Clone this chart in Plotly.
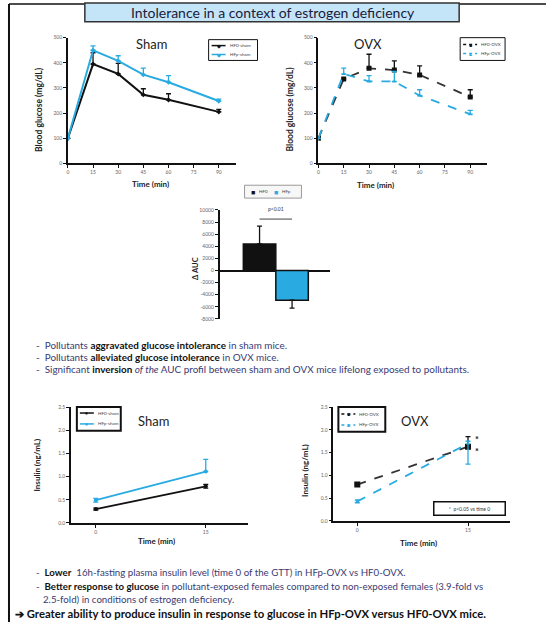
import plotly.graph_objects as go

W, H = 546, 625
def px(x): return x / W
def py(y): return 1 - y / H

BLUE = "#29ABE2"
BLACK = "#111111"
TXT = "#3a3a72"
FONT = "Lato"

# ---------------- data ----------------
gtt_time = [0, 15, 30, 45, 60, 90]
gtt_ticks = [0, 15, 30, 45, 60, 75, 90]
gtt_yticks = [0, 100, 200, 300, 400, 500]
sham_hf0 = [100, 395, 356, 273, 253, 205]
sham_hf0_err = [0, 45, 42, 24, 24, 10]
sham_hfp = [100, 450, 408, 353, 323, 248]
sham_hfp_err = [0, 17, 20, 26, 26, 8]
ovx_hf0 = [100, 336, 378, 371, 352, 264]
ovx_hf0_err = [0, 0, 56, 37, 36, 29]
ovx_hfp = [100, 356, 326, 326, 270, 196]
ovx_hfp_err = [0, 23, 23, 40, 23, 15]

auc_groups = ["HF0", "HFp"]
auc_pos = [0, 1]
auc_delta = [4400, -4900]
auc_err_up = [2950, 0]
auc_err_down = [0, 1300]
auc_ticks = [-8000, -6000, -4000, -2000, 0, 2000, 4000, 6000, 8000, 10000]
auc_ticktext = [str(v) for v in auc_ticks]

ins_time = [0, 15]
ins_ticks = ["0", "15"]
ins_yticks = [0.0, 0.5, 1.0, 1.5, 2.0, 2.5]
ins_sham_hf0 = [0.30, 0.79]
ins_sham_hf0_up = [0.02, 0.04]
ins_sham_hf0_dn = [0.02, 0.04]
ins_sham_hfp = [0.49, 1.11]
ins_sham_hfp_up = [0.04, 0.26]
ins_sham_hfp_dn = [0.04, 0.0]
ins_ovx_hf0 = [0.80, 1.63]
ins_ovx_hf0_up = [0.04, 0.22]
ins_ovx_hf0_dn = [0.0, 0.0]
ins_ovx_hfp = [0.43, 1.70]
ins_ovx_hfp_up = [0.03, 0.05]
ins_ovx_hfp_dn = [0.03, 0.45]

fig = go.Figure()

def err(up, dn, color):
    return dict(type="data", symmetric=False, array=up, arrayminus=dn,
                color=color, thickness=1.3, width=2.5)

# chart 1: Sham GTT
fig.add_trace(go.Scatter(x=gtt_time, y=sham_hf0, name="HF0-sham", mode="lines+markers",
    line=dict(color=BLACK, width=2), marker=dict(size=4, symbol="diamond"),
    error_y=err(sham_hf0_err, [0]*6, BLACK), xaxis="x", yaxis="y"))
fig.add_trace(go.Scatter(x=gtt_time, y=sham_hfp, name="HFp-sham", mode="lines+markers",
    line=dict(color=BLUE, width=2), marker=dict(size=4, symbol="diamond"),
    error_y=err(sham_hfp_err, [0]*6, BLUE), xaxis="x", yaxis="y"))

# chart 2: OVX GTT
fig.add_trace(go.Scatter(x=gtt_time, y=ovx_hf0, name="HF0-OVX", mode="lines+markers",
    line=dict(color="#333333", width=1.8, dash="dash"), marker=dict(size=5, symbol="square", color=BLACK),
    error_y=err(ovx_hf0_err, [0]*6, BLACK), xaxis="x2", yaxis="y2"))
fig.add_trace(go.Scatter(x=gtt_time, y=ovx_hfp, name="HFp-OVX", mode="lines+markers",
    line=dict(color=BLUE, width=1.8, dash="dash"), marker=dict(size=4, symbol="triangle-up", color=BLUE),
    error_y=err(ovx_hfp_err, [0]*6, BLUE), xaxis="x2", yaxis="y2"))

# chart 3: delta AUC
for i, (g, c) in enumerate(zip(auc_groups, [BLACK, BLUE])):
    fig.add_trace(go.Bar(x=[auc_pos[i]], y=[auc_delta[i]], name=g, width=1,
        marker=dict(color=c, line=dict(color=BLACK, width=1.5)),
        error_y=err([auc_err_up[i]], [auc_err_down[i]], BLACK),
        xaxis="x3", yaxis="y3"))

# chart 4: Sham insulin
fig.add_trace(go.Scatter(x=ins_time, y=ins_sham_hf0, name="HF0-sham", mode="lines+markers",
    line=dict(color=BLACK, width=1.8), marker=dict(size=4),
    error_y=err(ins_sham_hf0_up, ins_sham_hf0_dn, BLACK), xaxis="x4", yaxis="y4"))
fig.add_trace(go.Scatter(x=ins_time, y=ins_sham_hfp, name="HFp-sham", mode="lines+markers",
    line=dict(color=BLUE, width=1.8), marker=dict(size=4),
    error_y=err(ins_sham_hfp_up, ins_sham_hfp_dn, BLUE), xaxis="x4", yaxis="y4"))

# chart 5: OVX insulin
fig.add_trace(go.Scatter(x=ins_time, y=ins_ovx_hf0, name="HF0-OVX", mode="lines+markers",
    line=dict(color="#333333", width=1.8, dash="dash"), marker=dict(size=6, symbol="square", color=BLACK),
    error_y=err(ins_ovx_hf0_up, ins_ovx_hf0_dn, BLACK), xaxis="x5", yaxis="y5"))
fig.add_trace(go.Scatter(x=ins_time, y=ins_ovx_hfp, name="HFp-OVX", mode="lines+markers",
    line=dict(color=BLUE, width=1.8, dash="dash"), marker=dict(size=4, symbol="triangle-up", color=BLUE),
    error_y=err(ins_ovx_hfp_up, ins_ovx_hfp_dn, BLUE), xaxis="x5", yaxis="y5"))

tickfont = dict(family=FONT, size=5, color="#666666")
def xax(dom, yanchor, rng, tickvals, ticktext=None, showline=True):
    d = dict(domain=dom, anchor=yanchor, range=rng, tickvals=tickvals, showline=showline,
             linecolor=BLACK, linewidth=1.5, ticks="outside" if showline else "", ticklen=3,
             tickcolor=BLACK, showgrid=False, zeroline=False, tickfont=tickfont,
             showticklabels=showline, fixedrange=True)
    if ticktext is not None:
        d["ticktext"] = ticktext
    return d

def yax(dom, xanchor, rng, tickvals, ticktext=None, zeroline=False, fmt=None):
    d = dict(domain=dom, anchor=xanchor, range=rng, tickvals=tickvals, showline=True,
             linecolor=BLACK, linewidth=1.5, ticks="outside", ticklen=3, tickcolor=BLACK,
             showgrid=False, zeroline=zeroline, zerolinecolor=BLACK, zerolinewidth=1.5,
             tickfont=tickfont, fixedrange=True)
    if ticktext is not None:
        d["ticktext"] = ticktext
    if fmt:
        d["tickformat"] = fmt
    return d

fig.update_layout(
    width=W, height=H, margin=dict(l=0, r=0, t=0, b=0),
    paper_bgcolor="white", plot_bgcolor="white", barmode="overlay", showlegend=False,
    font=dict(family=FONT),
    xaxis=xax([px(67), px(235)], "y", [0, 100], gtt_ticks),
    yaxis=yax([py(162), py(35)], "x", [0, 500], gtt_yticks),
    xaxis2=xax([px(318), px(487)], "y2", [0, 100], gtt_ticks),
    yaxis2=yax([py(162), py(35)], "x2", [0, 500], gtt_yticks),
    xaxis3=xax([px(219), px(330)], "y3", [-1.23, 2.18], [], showline=False),
    yaxis3=yax([py(319), py(209)], "x3", [-8000, 10000], auc_ticks, auc_ticktext, zeroline=True),
    xaxis4=xax([px(70), px(247)], "y4", [-3.4, 20.7], ins_time, ins_ticks),
    yaxis4=yax([py(525), py(408)], "x4", [0, 2.5], ins_yticks, fmt=".1f"),
    xaxis5=xax([px(333), px(510)], "y5", [-3.24, 20.7], ins_time, ins_ticks),
    yaxis5=yax([py(523), py(408)], "x5", [0, 2.5], ins_yticks, fmt=".1f"),
)

shapes = [
    dict(type="line", xref="paper", yref="paper", x0=px(8), x1=px(8), y0=py(1), y1=py(625),
         line=dict(color=BLACK, width=2)),
    dict(type="line", xref="paper", yref="paper", x0=px(8), x1=px(84), y0=py(1), y1=py(1),
         line=dict(color=BLACK, width=1.5)),
    dict(type="line", xref="paper", yref="paper", x0=px(459), x1=px(546), y0=py(1), y1=py(1),
         line=dict(color=BLACK, width=1.5)),
    dict(type="rect", xref="paper", yref="paper", x0=px(84), x1=px(459), y0=py(0), y1=py(19),
         fillcolor="#c4e5f8", line=dict(color="#333333", width=1.5)),
    dict(type="line", xref="x3", yref="y3", x0=0, x1=1, y0=8500, y1=8500,
         line=dict(color="#444444", width=1)),
]

ann = []
def A(x, y, text, size=8, color=TXT, angle=0, xanchor="left", bold=False, **kw):
    if bold:
        text = "<b>" + text + "</b>"
    ann.append(dict(x=px(x), y=py(y), xref="paper", yref="paper", text=text, showarrow=False,
                    textangle=angle, xanchor=xanchor, yanchor="middle",
                    font=dict(family=FONT, size=size, color=color), **kw))

# ---- hand-made small legends (legend keys) ----
def legend_box(x0, y0, x1, y1, bw, entries, bc=BLACK):
    shapes.append(dict(type="rect", xref="paper", yref="paper", x0=px(x0), x1=px(x1),
                       y0=py(y0), y1=py(y1), line=dict(color=bc, width=bw), fillcolor="white"))
    for (yy, color, dash, sym, label) in entries:
        shapes.append(dict(type="line", xref="paper", yref="paper", x0=px(x0 + 3), x1=px(x0 + 17),
                           y0=py(yy), y1=py(yy), line=dict(color=color, width=1.5, dash=dash)))
        A(x0 + 10, yy, sym, size=5, color=color, xanchor="center")
        A(x0 + 19, yy, label, size=4.5, color="#444444")

legend_box(208, 37, 257, 58, 1, [(43, BLACK, "solid", "◆", "HF0-sham"), (52, BLUE, "solid", "◆", "HFp-sham")])
legend_box(460, 35, 505, 58, 1, [(42, BLACK, "dot", "■", "HF0-OVX"), (51, BLUE, "dot", "▲", "HFp-OVX")])
legend_box(76, 408, 120, 432, 2, [(414, BLACK, "solid", "●", "HF0-sham"), (425, BLUE, "solid", "●", "HFp-sham")])
legend_box(338, 408, 385, 433, 2, [(415, BLACK, "dot", "■", "HF0-OVX"), (426, BLUE, "dot", "▲", "HFp-OVX")])
# bar legend
shapes.append(dict(type="rect", xref="paper", yref="paper", x0=px(244), x1=px(301), y0=py(184), y1=py(197),
                   line=dict(color="#999999", width=1), fillcolor="#f7f7f7"))
A(252, 190.5, "■", size=7, color=BLACK, xanchor="center")
A(256, 190.5, "HF0", size=4.5, color="#444444")
A(276, 190.5, "■", size=7, color=BLUE, xanchor="center")
A(280, 190.5, "HFp", size=4.5, color="#444444")

A(272, 10, "Intolerance in a context of estrogen deficiency", size=14, color="#1a1a3a", xanchor="center")
A(151, 41, "Sham", size=13, color="#222222", xanchor="center")
A(368, 41, "OVX", size=13, color="#222222", xanchor="center")
A(153, 422, "Sham", size=13, color="#222222", xanchor="center")
A(415, 422, "OVX", size=13, color="#222222", xanchor="center")
A(38, 107, "Blood glucose (mg/dL)", size=8.5, color="#222222", angle=-90, xanchor="center", bold=True)
A(290, 107, "Blood glucose (mg/dL)", size=8.5, color="#222222", angle=-90, xanchor="center", bold=True)
A(150, 183, "Time (min)", size=8, color="#222222", xanchor="center", bold=True)
A(375, 184, "Time (min)", size=8, color="#222222", xanchor="center", bold=True)
A(195, 268, "Δ AUC", size=7.5, color="#222222", angle=-90, xanchor="center", bold=True)
A(36, 466, "Insulin (ng/mL)", size=8, color="#222222", angle=-90, xanchor="center", bold=True)
A(305, 472, "Insulin (ng/mL)", size=8, color="#222222", angle=-90, xanchor="center", bold=True)
A(156, 543, "Time (min)", size=8, color="#222222", xanchor="center", bold=True)
A(418, 545, "Time (min)", size=8, color="#222222", xanchor="center", bold=True)

ann.append(dict(x=0.5, y=9300, xref="x3", yref="y3", text="p<0.01", showarrow=False,
                font=dict(family=FONT, size=5, color="#333333"), yanchor="bottom"))
ann.append(dict(x=15, y=1.83, xref="x5", yref="y5", text="<b>*</b>", showarrow=False, xshift=9, yshift=-2,
                font=dict(family=FONT, size=9, color=BLACK)))
ann.append(dict(x=15, y=1.57, xref="x5", yref="y5", text="<b>*</b>", showarrow=False, xshift=9, yshift=-2,
                font=dict(family=FONT, size=9, color=BLACK)))
ann.append(dict(x=px(469), y=py(510), xref="paper", yref="paper",
                text="*  p<0.05 vs time 0", showarrow=False, xanchor="center", yanchor="middle",
                bordercolor=BLACK, borderwidth=1.5, borderpad=3, bgcolor="white", width=64,
                font=dict(family=FONT, size=5, color="#333333")))

B = "<span style='color:#111'><b>%s</b></span>"
A(33, 345, "-  Pollutants " + B % "aggravated glucose intolerance" + " in sham mice.", size=9.9)
A(33, 357, "-  Pollutants " + B % "alleviated glucose intolerance" + " in OVX mice.", size=9.9)
A(33, 370, "-  Significant " + B % "inversion" + " <i>of the</i> AUC profil between sham and OVX mice lifelong exposed to pollutants.", size=9.9)
A(33, 575, "-  " + B % "Lower" + "  16h-fasting plasma insulin level (time 0 of the GTT) in HFp-OVX vs HF0-OVX.", size=9.7)
A(33, 589, "-  " + B % "Better response to glucose" + " in pollutant-exposed females compared to non-exposed females (3.9-fold vs", size=9.7)
A(40, 602, "2.5-fold) in conditions of estrogen deficiency.", size=9.7)
A(12, 616.5, "➔ Greater ability to produce insulin in response to glucose in HFp-OVX versus HF0-OVX mice.",
  size=11.3, color="#111111", bold=True)

fig.update_layout(shapes=shapes, annotations=ann)
fig.write_html("out.html", config={"displayModeBar": False},
               post_script="document.body.style.margin='0';document.body.style.overflow='hidden';")
